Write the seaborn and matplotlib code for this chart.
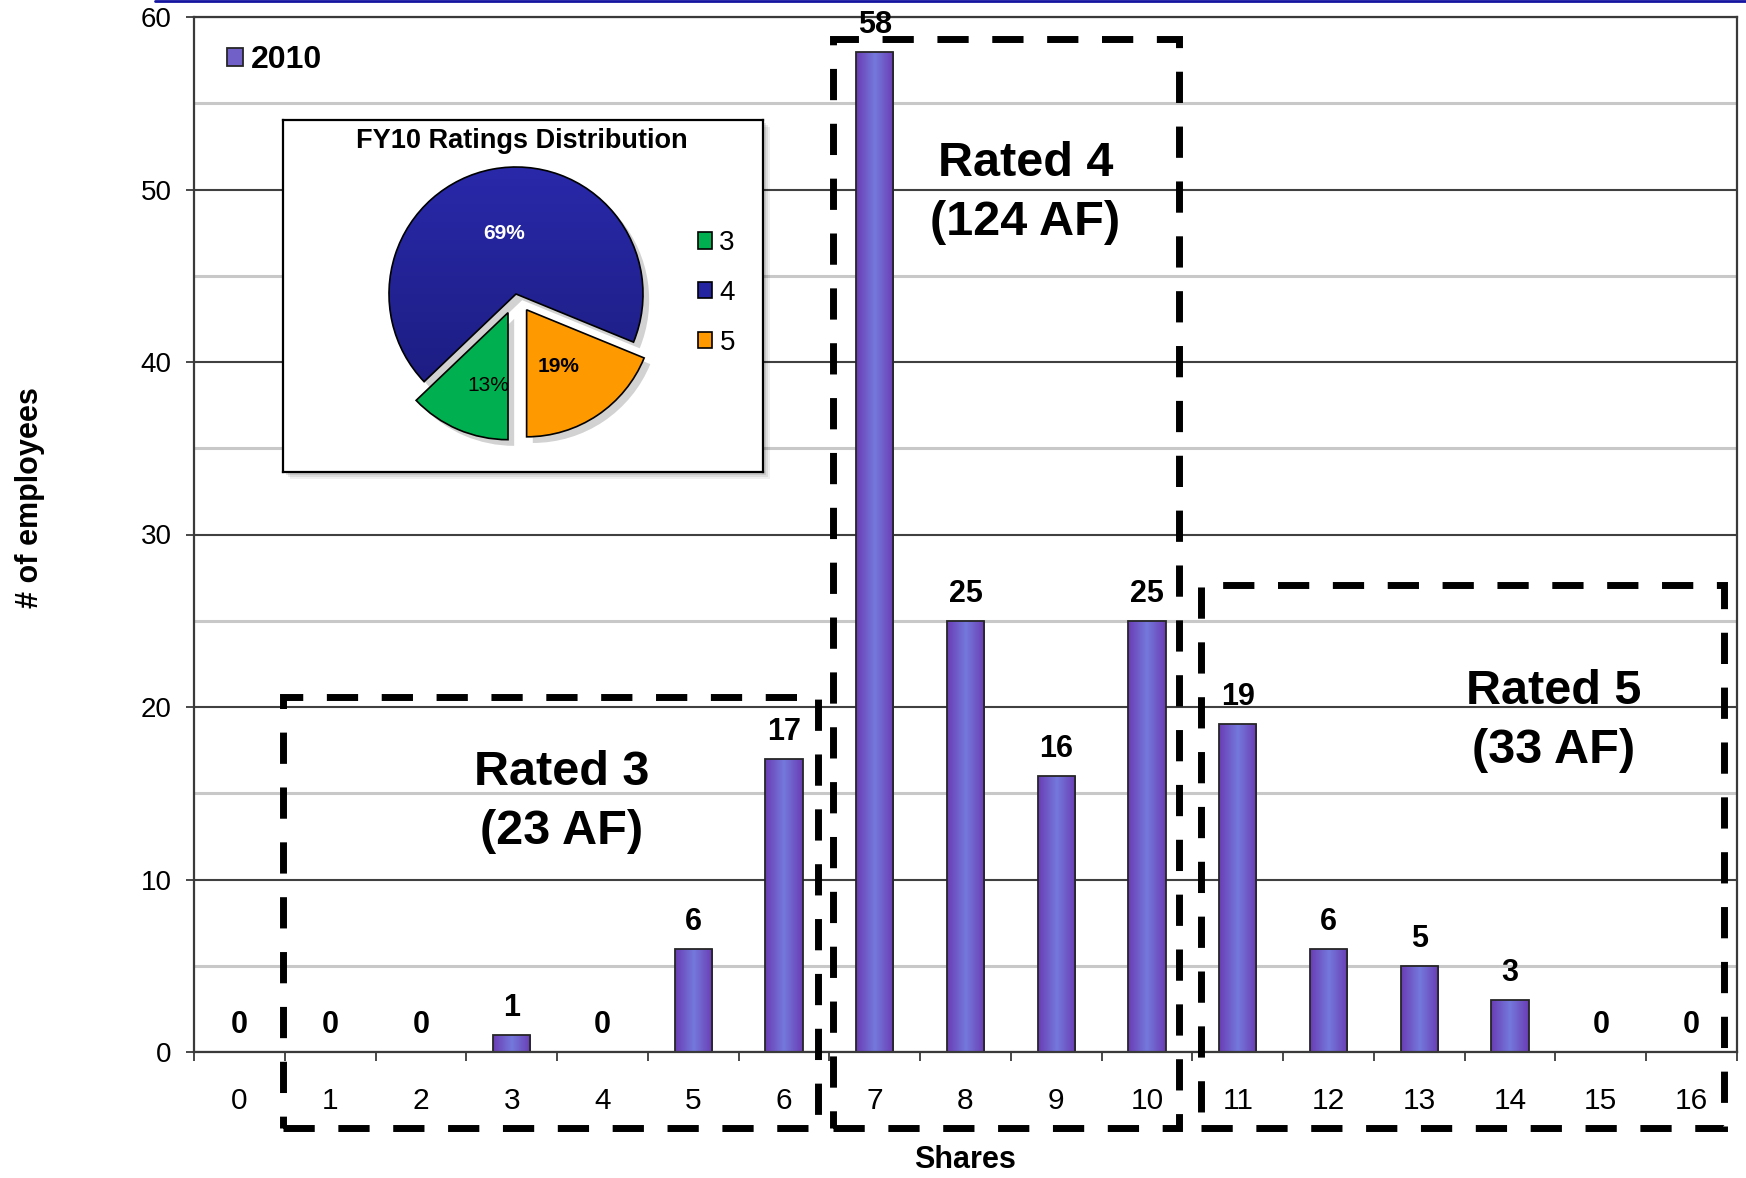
import numpy as np
import pandas as pd
import matplotlib
matplotlib.use("Agg")
import matplotlib.pyplot as plt
import seaborn as sns
from matplotlib.colors import LinearSegmentedColormap
from matplotlib.patches import Rectangle, Patch, Shadow
from matplotlib.lines import Line2D
from matplotlib.ticker import MultipleLocator, FixedLocator

# ---- data ----
shares = list(range(17))
employees = [0, 0, 0, 1, 0, 6, 17, 58, 25, 16, 25, 19, 6, 5, 3, 0, 0]
series_name = "2010"

group_labels = ["Rated 3\n(23 AF)", "Rated 4\n(124 AF)", "Rated 5\n(33 AF)"]

pie_title = "FY10 Ratings Distribution"
rating_levels = ["3", "4", "5"]
rating_pct = [13, 69, 19]

# ---- styling ----
sns.set_style("white")
plt.rcParams["font.family"] = ["Liberation Sans", "DejaVu Sans"]
plt.rcParams["text.color"] = "black"
plt.rcParams["axes.labelcolor"] = "black"
plt.rcParams["xtick.color"] = "black"
plt.rcParams["ytick.color"] = "black"

W, H = 1746, 1178
fig = plt.figure(figsize=(W / 100, H / 100), dpi=100)


def fx(px):
    return px / W


def fy(py):
    return 1 - py / H


AX_L, AX_R, AX_T, AX_B = 194, 1737, 17, 1052
ax = fig.add_axes([fx(AX_L), fy(AX_B), (AX_R - AX_L) / W, (AX_B - AX_T) / H], zorder=0)

bar_face = "#7060c8"
bar_edge = "#262626"
df = pd.DataFrame({"Shares": shares, "Employees": employees})
sns.barplot(data=df, x="Shares", y="Employees", order=shares, color=bar_face,
            saturation=1, width=0.41, edgecolor=bar_edge, linewidth=1.3, ax=ax)
container = ax.containers[0]

ax.bar_label(container, labels=[str(v) for v in employees], padding=8.5,
             fontsize=22, fontweight="bold", color="black")

# series legend (top left)
fig.legend(handles=[Patch(facecolor=bar_face, edgecolor=bar_edge, linewidth=1.3)],
           labels=[series_name], loc="center left",
           bbox_to_anchor=(fx(227), fy(60)), frameon=False,
           prop={"size": 23, "weight": "bold"}, handlelength=0.5, handleheight=0.5,
           handletextpad=0.25, borderpad=0, borderaxespad=0)

# horizontal purple gradient inside every bar
bar_cmap = LinearSegmentedColormap.from_list("bar", ["#6a3cb4", "#7479dc", "#6a3cb4"])
hgrad = np.linspace(0, 1, 256)[None, :]
for patch in container.patches:
    h = patch.get_height()
    if h <= 0:
        continue
    x0, w = patch.get_x(), patch.get_width()
    im = ax.imshow(hgrad, extent=(x0, x0 + w, 0, h), aspect="auto", cmap=bar_cmap,
                   interpolation="bicubic", zorder=patch.get_zorder() - 0.05)
    im.set_clip_path(patch)
    patch.set_facecolor("none")

ax.set_xlim(-0.5, 16.5)
ax.set_ylim(0, 60)

# axes frame, ticks and grid
frame_col = "#3a3a3a"
for s in ax.spines.values():
    s.set_visible(True)
    s.set_color(frame_col)
    s.set_linewidth(1.6)

ax.yaxis.set_major_locator(MultipleLocator(10))
ax.yaxis.set_minor_locator(MultipleLocator(5))
ax.xaxis.set_minor_locator(FixedLocator(np.arange(-0.5, 17, 1)))
ax.tick_params(left=True, bottom=True)
ax.tick_params(axis="y", which="major", direction="out", length=6, width=1.3,
               color=frame_col, labelsize=20, pad=10)
ax.tick_params(axis="y", which="minor", length=0)
ax.tick_params(axis="x", which="major", length=0, labelsize=21.5, pad=25)
ax.tick_params(axis="x", which="minor", direction="out", length=6.5, width=1.3,
               color=frame_col, bottom=True)

ax.grid(False)
ax.yaxis.grid(True, which="major", color="#404040", linewidth=1.5)
ax.yaxis.grid(True, which="minor", color="#c8c8c8", linewidth=2.2)
ax.set_axisbelow(True)

ax.set_xlabel("Shares", fontsize=22, fontweight="bold")
ax.xaxis.set_label_coords(0.5, (AX_B - 1160) / (AX_B - AX_T))
ax.xaxis.label.set_va("center")
ax.set_ylabel("# of employees", fontsize=22, fontweight="bold")
ax.yaxis.set_label_coords((30 - AX_L) / (AX_R - AX_L), (AX_B - 498) / (AX_B - AX_T))
ax.yaxis.label.set_va("center")

# dashed rating group boxes
box_bottom = -4.4
box_specs = [(0.485, 6.38, 20.6), (6.545, 10.35, 58.7), (10.59, 16.36, 27.1)]
for x0, x1, top in box_specs:
    ax.add_patch(Rectangle((x0, box_bottom), x1 - x0, top - box_bottom, fill=False,
                           edgecolor="black", linewidth=5, linestyle=(0, (4.5, 3.4)),
                           clip_on=False, zorder=4))

label_pos = [(3.55, 14.5), (8.66, 49.8), (14.48, 19.18)]
for text, (x, y) in zip(group_labels, label_pos):
    ax.text(x, y, text, ha="center", va="center", fontsize=35, fontweight="bold",
            linespacing=1.42, color="black", zorder=5)

# ---- inset: ratings distribution pie ----
bx0, by0, bx1, by1 = 283, 120, 763, 472
for off, a in [(7, 0.06), (5, 0.08), (3, 0.10)]:
    fig.add_artist(Rectangle((fx(bx0 + off), fy(by1 + off)), (bx1 - bx0) / W, (by1 - by0) / H,
                             transform=fig.transFigure, facecolor="black", edgecolor="none",
                             alpha=a, zorder=1))

box_ax = fig.add_axes([fx(bx0), fy(by1), (bx1 - bx0) / W, (by1 - by0) / H], zorder=2)
box_ax.set_facecolor("white")
box_ax.set_xticks([])
box_ax.set_yticks([])
for s in box_ax.spines.values():
    s.set_visible(True)
    s.set_color("black")
    s.set_linewidth(1.6)
box_ax.text(0.498, 0.94, pie_title, ha="center", va="center", fontsize=19.5,
            fontweight="bold", transform=box_ax.transAxes)

cx, cy, R, half = 516, 294, 127, 150
pie_ax = fig.add_axes([fx(cx - half), fy(cy + half), 2 * half / W, 2 * half / H], zorder=3)
pie_ax.patch.set_alpha(0)
pie_colors = ["#00b050", "#2424a0", "#ff9900"]
wedges, _ = pie_ax.pie(rating_pct, colors=pie_colors, startangle=270, counterclock=False,
                       explode=[0.16, 0, 0.15], radius=1,
                       wedgeprops=dict(edgecolor="black", linewidth=1.2),
                       shadow={"ox": 0.035, "oy": -0.035, "facecolor": "#808080",
                               "edgecolor": "none", "alpha": 0.35})
# keep the drop shadows underneath every slice
for p in pie_ax.patches:
    if isinstance(p, Shadow):
        p.set_zorder(0.5)

fig.legend(handles=wedges, labels=rating_levels, loc="center left",
           bbox_to_anchor=(fx(698), fy(293)), frameon=False, fontsize=20,
           handlelength=0.52, handleheight=0.52, handletextpad=0.25,
           labelspacing=0.85, borderpad=0, borderaxespad=0)

# vertical shading on the large slice
blue_cmap = LinearSegmentedColormap.from_list("blue", ["#1b1b7c", "#2929aa"])
vgrad = np.linspace(0, 1, 256)[:, None]
im = pie_ax.imshow(vgrad, extent=(-1, 1, -1, 1), origin="lower", cmap=blue_cmap,
                   aspect="auto", zorder=wedges[1].get_zorder() - 0.01)
im.set_clip_path(wedges[1])
wedges[1].set_facecolor("none")

pct_pos = [(-0.22, -0.724), (-0.094, 0.48), (0.339, -0.567)]
pct_colors = ["black", "white", "black"]
pct_weights = ["normal", "bold", "bold"]
for v, (x, y), c, wgt in zip(rating_pct, pct_pos, pct_colors, pct_weights):
    pie_ax.text(x, y, f"{v}%", ha="center", va="center", fontsize=15, color=c,
                fontweight=wgt, zorder=6)

pie_ax.set_xlim(-half / R, half / R)
pie_ax.set_ylim(-half / R, half / R)
pie_ax.axis("off")

# thin rule along the top edge
fig.add_artist(Line2D([fx(155), 1], [fy(1), fy(1)], transform=fig.transFigure,
                      color="#1414a0", linewidth=2))

fig.savefig("out.png", dpi=100)
